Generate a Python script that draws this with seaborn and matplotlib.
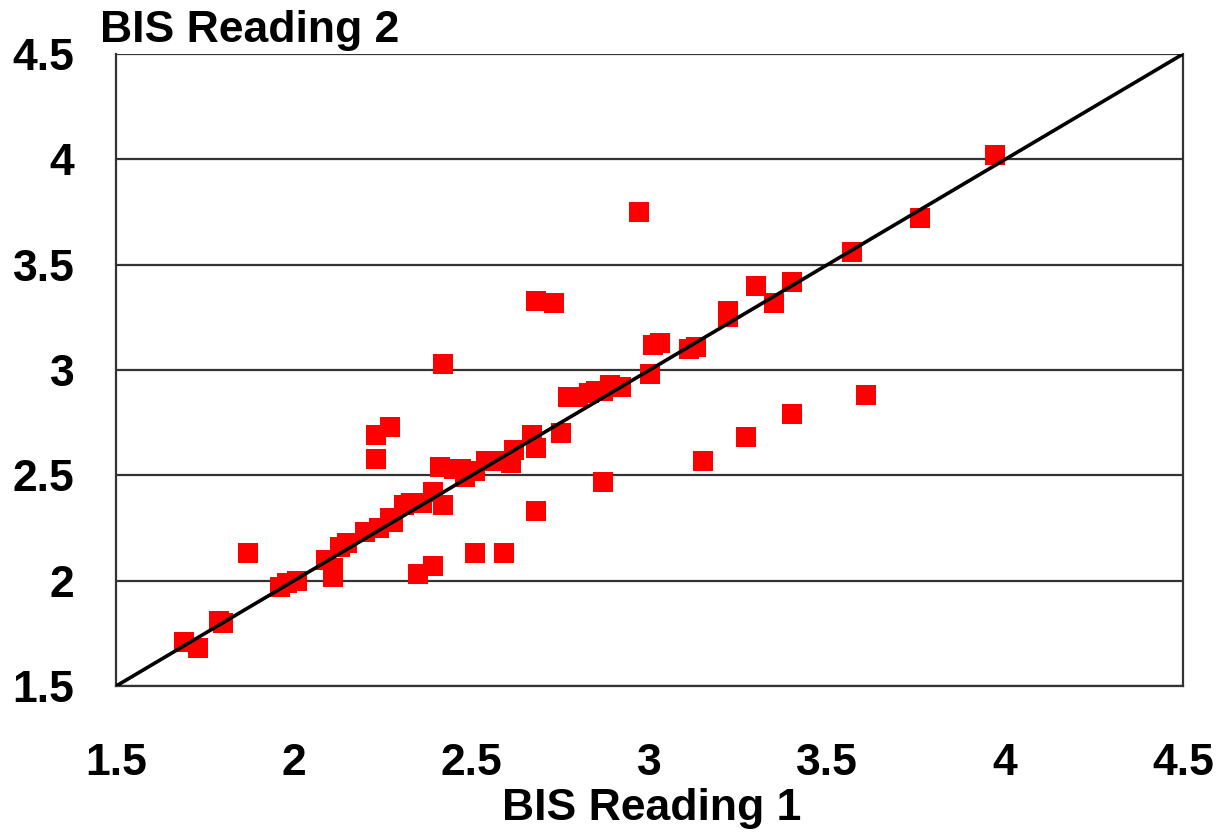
import pandas as pd
import matplotlib
matplotlib.use("Agg")
import matplotlib.pyplot as plt
import seaborn as sns

# BIS readings
reading1 = [1.69, 1.73, 1.79, 1.80, 1.87, 1.96, 1.98, 2.01, 2.09, 2.11,
            2.11, 2.13, 2.15, 2.20, 2.23, 2.23, 2.27, 2.24, 2.27, 2.28,
            2.31, 2.33, 2.35, 2.36, 2.39, 2.39, 2.41, 2.42, 2.42, 2.45,
            2.47, 2.48, 2.51, 2.51, 2.54, 2.57, 2.59, 2.61, 2.62, 2.67,
            2.68, 2.68, 2.68, 2.73, 2.75, 2.77, 2.80, 2.83, 2.85, 2.87,
            2.87, 2.89, 2.92, 2.97, 3.00, 3.01, 3.03, 3.11, 3.13, 3.15,
            3.27, 3.22, 3.22, 3.30, 3.35, 3.40, 3.40, 3.57, 3.61, 3.76,
            3.97]
reading2 = [1.71, 1.68, 1.81, 1.80, 2.13, 1.97, 1.99, 2.00, 2.10, 2.02,
            2.06, 2.16, 2.18, 2.23, 2.69, 2.58, 2.73, 2.25, 2.30, 2.28,
            2.36, 2.37, 2.03, 2.37, 2.07, 2.42, 2.54, 2.36, 3.03, 2.53,
            2.53, 2.49, 2.13, 2.52, 2.57, 2.57, 2.13, 2.56, 2.62, 2.69,
            2.63, 3.33, 2.33, 3.32, 2.70, 2.87, 2.87, 2.89, 2.90, 2.47,
            2.90, 2.93, 2.92, 3.75, 2.98, 3.12, 3.13, 3.10, 3.11, 2.57,
            2.68, 3.25, 3.28, 3.40, 3.32, 3.42, 2.79, 3.56, 2.88, 3.72,
            4.02]
identity = [1.5, 4.5]
ticks = [1.5, 2, 2.5, 3, 3.5, 4, 4.5]
tick_labels = ["1.5", "2", "2.5", "3", "3.5", "4", "4.5"]

df = pd.DataFrame({"r1": reading1, "r2": reading2})

sns.set_style("white")
plt.rcParams["font.family"] = ["Liberation Sans", "DejaVu Sans"]
plt.rcParams["font.weight"] = "bold"
plt.rcParams["text.color"] = "black"
plt.rcParams["xtick.labelcolor"] = "black"
plt.rcParams["ytick.labelcolor"] = "black"

fig = plt.figure(figsize=(12.23, 8.39), dpi=100)
ax = fig.add_axes([0.0949, 0.1823, 0.8724, 0.7533])

sns.scatterplot(data=df, x="r1", y="r2", marker="s", s=200, color="#ff0000",
                linewidth=0, ax=ax, zorder=3)
sns.lineplot(x=identity, y=identity, color="black", linewidth=2.6, ax=ax, zorder=4)

ax.set_xlim(1.5, 4.5)
ax.set_ylim(1.5, 4.5)
ax.set_xticks(ticks)
ax.set_xticklabels(tick_labels)
ax.set_yticks(ticks)
ax.set_yticklabels(tick_labels)
ax.tick_params(axis="both", direction="out", length=12, width=1.6, color="#333333",
               labelsize=32)
ax.tick_params(axis="x", pad=29)
ax.tick_params(axis="y", pad=18)
for lab in ax.get_xticklabels() + ax.get_yticklabels():
    lab.set_fontweight("bold")

ax.yaxis.grid(True, color="#333333", linewidth=1.6)
ax.set_axisbelow(True)
for side in ["left", "right", "bottom"]:
    ax.spines[side].set_color("#333333")
    ax.spines[side].set_linewidth(1.6)
ax.spines["top"].set_visible(False)

ax.set_xlabel("")
ax.set_ylabel("")
fig.text(0.533, 0.036, "BIS Reading 1", fontsize=32, fontweight="bold",
         ha="center", va="center")
fig.text(0.082, 0.964, "BIS Reading 2", fontsize=32, fontweight="bold",
         ha="left", va="center")

fig.savefig("out.png", dpi=100)
